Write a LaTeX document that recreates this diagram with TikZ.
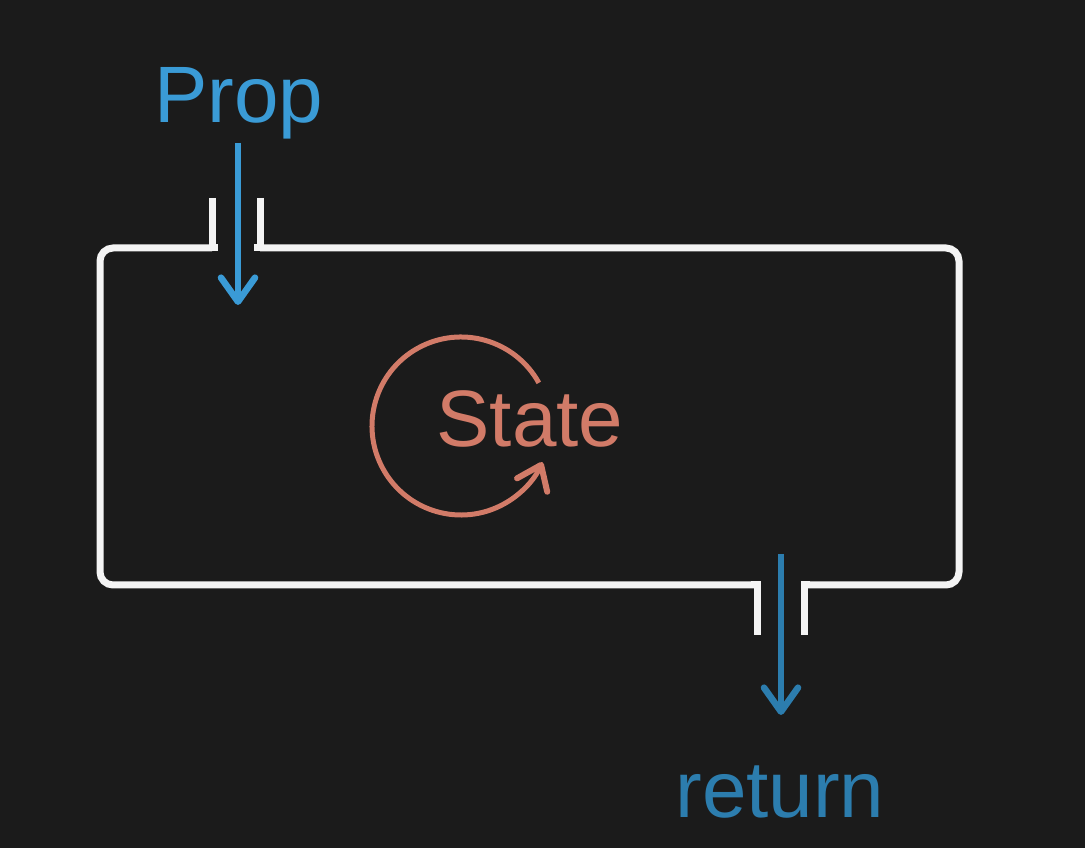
\documentclass[tikz,border=0pt]{standalone}
\usepackage{fontspec}
\setmainfont{Liberation Sans}
\usetikzlibrary{arrows.meta}
\definecolor{bgc}{HTML}{1B1B1B}
\definecolor{propblue}{HTML}{3A9BD6}
\definecolor{retblue}{HTML}{2C7DAE}
\definecolor{statec}{HTML}{D27B68}
\definecolor{boxc}{HTML}{F4F4F4}
\tikzset{
  boxline/.style={draw=boxc, line width=7pt},
  flow/.style={draw=propblue, line width=5.5pt,
    -{Straight Barb[length=24pt,width=34pt,line cap=round,line join=round,line width=0pt 1.2]}},
  label/.style={font=\fontsize{80}{90}\selectfont, inner sep=0pt, anchor=base},
}
\begin{document}
\begin{tikzpicture}[x=1pt,y=1pt]
\fill[bgc] (0,0) rectangle (1085,848);
\useasboundingbox (0,0) rectangle (1085,848);
% box with two openings
\coordinate (tl1) at (212,650);
\coordinate (tl2) at (212,600);
\coordinate (tr1) at (260,650);
\coordinate (tr2) at (260,600);
\coordinate (bl1) at (757,213);
\coordinate (bl2) at (757,263);
\coordinate (br1) at (804,213);
\coordinate (br2) at (804,263);
\draw[boxline, rounded corners=13pt] (tl2) -- (100,600) -- (100,263) -- (bl2);
\draw[boxline, rounded corners=13pt] (tr2) -- (959,600) -- (959,263) -- (br2);
\draw[boxline, line join=miter] (tl1) -- (tl2) -- ([xshift=6pt]tl2);
\draw[boxline, line join=miter] (tr1) -- (tr2) -- ([xshift=-6pt]tr2);
\draw[boxline, line join=miter] (bl1) -- (bl2) -- ([xshift=-6pt]bl2);
\draw[boxline, line join=miter] (br1) -- (br2) -- ([xshift=6pt]br2);
% labels
\node[label, text=propblue] (prop) at (239,725) {Prop};
\node[label, text=retblue] (ret) at (780,30) {return};
\node[label, text=statec] (state) at (530,401) {State};
% arrows
\coordinate (pin0) at (238,705);
\coordinate (pin1) at (238,543);
\coordinate (rout0) at (781,294);
\coordinate (rout1) at (781,133);
\draw[flow] (pin0) -- (pin1);
\draw[flow, draw=retblue] (rout0) -- (rout1);
% state loop
\coordinate (sc) at (461,422);
\draw[draw=statec, line width=5pt, -{Straight Barb[length=22pt,width=33pt,line cap=round,line join=round,line width=0pt 1.2]}]
  ([shift={(29:89pt)}]sc) arc[start angle=29, end angle=336, radius=89pt];
\end{tikzpicture}
\end{document}
